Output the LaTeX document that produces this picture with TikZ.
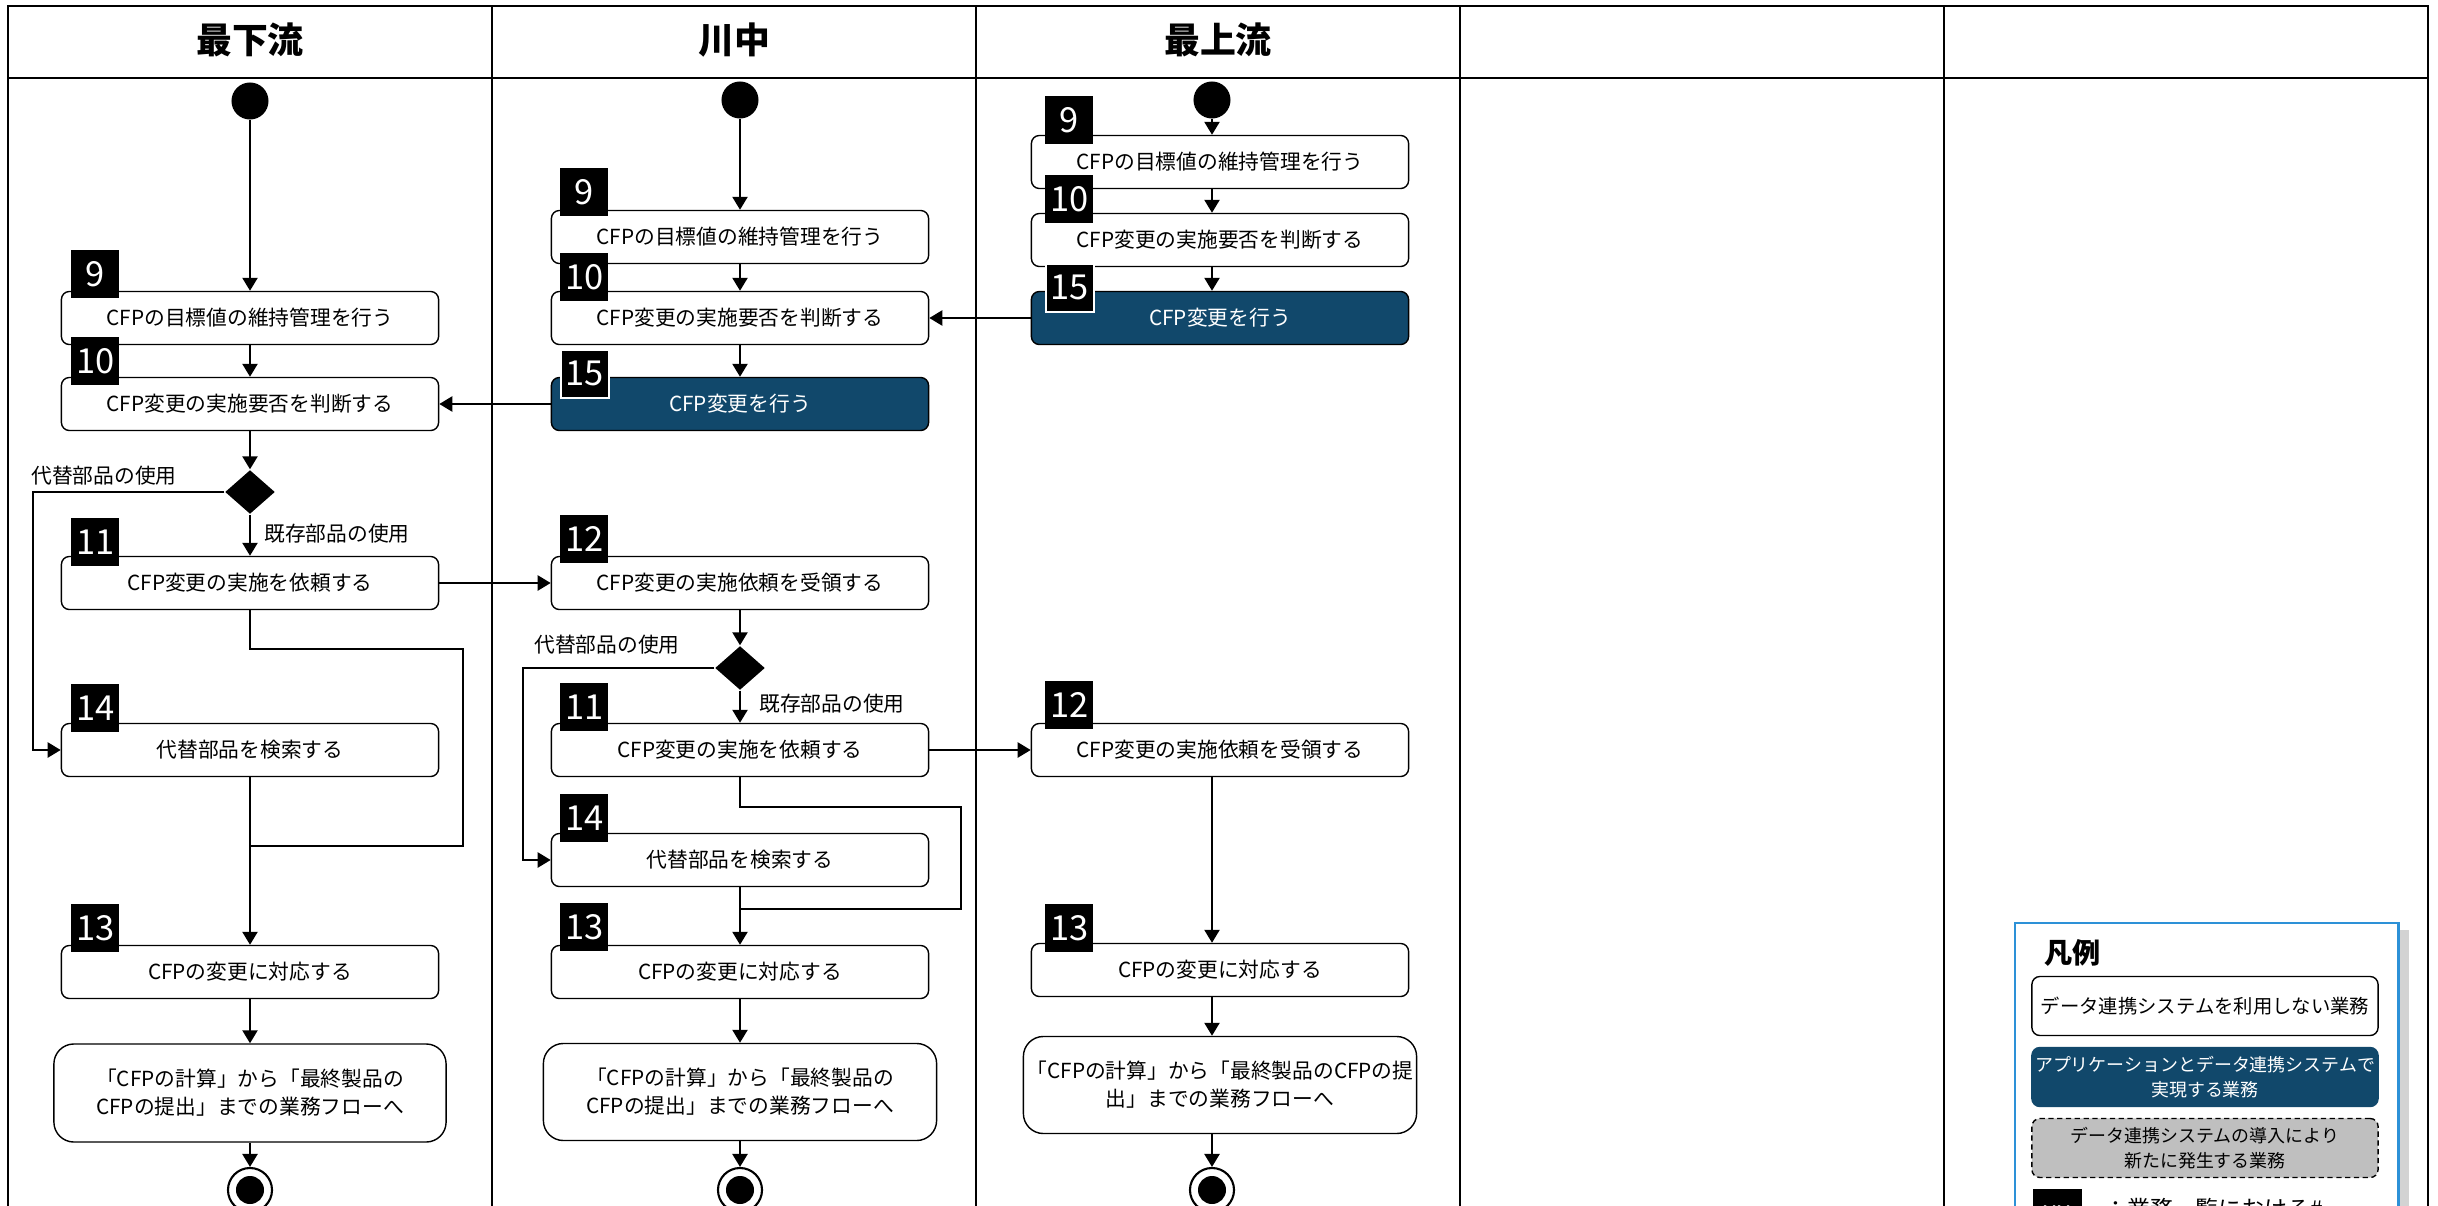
\documentclass[tikz,border=0pt]{standalone}
\usepackage{fontspec}
\setmainfont{Noto Sans CJK JP}
\usetikzlibrary{arrows.meta,shapes.geometric,shadows}
\definecolor{flownavy}{RGB}{17,72,107}
\definecolor{flowgray}{RGB}{191,191,191}
\definecolor{legendblue}{RGB}{45,145,215}

\begin{document}
\begin{tikzpicture}[x=0.01cm, y=-0.01cm,
  lane/.style={line width=0.8pt},
  task/.style={draw, line width=0.4pt, rounded corners=0.08cm, fill=white, minimum width=3.77cm, minimum height=0.53cm, inner sep=0pt, font=\fontsize{5.9pt}{7.5pt}\selectfont},
  apptask/.style={task, fill=flownavy, text=white},
  exitbox/.style={task, rounded corners=0.2cm, minimum width=3.93cm, minimum height=0.97cm, align=center, font=\fontsize{5.9pt}{8pt}\selectfont},
  tag/.style={fill=black, text=white, minimum size=0.48cm, inner sep=0pt, anchor=south west, font=\fontsize{9.8pt}{10pt}\selectfont},
  apptag/.style={tag, draw=white, line width=0.6pt},
  startdot/.style={circle, fill=black, minimum size=0.37cm, inner sep=0pt},
  enddot/.style={circle, draw=black, line width=0.6pt, fill=white, minimum size=0.44cm, inner sep=0pt,
    path picture={\fill[black] (path picture bounding box.center) circle (0.14cm);}},
  branch/.style={diamond, fill=black, minimum width=0.5cm, minimum height=0.44cm, inner sep=0pt},
  note/.style={font=\fontsize{5.9pt}{7.5pt}\selectfont},
  flow/.style={line width=0.6pt},
  arr/.style={flow, -{Triangle[length=3.7pt, width=4.3pt]}},
  legitem/.style={draw, line width=0.4pt, rounded corners=0.08cm, fill=white, minimum width=3.46cm, minimum height=0.59cm, inner sep=0pt, align=center, font=\fontsize{5.1pt}{7pt}\selectfont}
]
\useasboundingbox (0,0) rectangle (2438,1206);

% Swimlanes
\draw[lane] (8,1230) -- (8,6) -- (2428,6) -- (2428,1230);
\draw[lane] (8,78) -- (2428,78);
\draw[lane] (492,6) -- (492,1230);
\draw[lane] (976,6) -- (976,1230);
\draw[lane] (1460,6) -- (1460,1230);
\draw[lane] (1944,6) -- (1944,1230);
\node[font=\bfseries\fontsize{10.2pt}{12pt}\selectfont] (h1) at (250,40) {最下流};
\node[font=\bfseries\fontsize{10.2pt}{12pt}\selectfont] (h2) at (734,40) {川中};
\node[font=\bfseries\fontsize{10.2pt}{12pt}\selectfont] (h3) at (1218,40) {最上流};

% Lane 1: downstream
\node[startdot] (s1) at (250,101) {};
\node[task] (a9) at (250,318) {CFPの目標値の維持管理を行う};
\node[tag] (a9n) at ([shift={(10,8)}]a9.north west) {9};
\node[task] (a10) at (250,404) {CFP変更の実施要否を判断する};
\node[tag] (a10n) at ([shift={(10,9)}]a10.north west) {10};
\node[branch] (d1) at (250,492) {};
\node[note] (l1a) at (104,476) {代替部品の使用};
\node[note] (l1b) at (337,534) {既存部品の使用};
\node[task] (a11) at (250,583) {CFP変更の実施を依頼する};
\node[tag] (a11n) at ([shift={(10,11)}]a11.north west) {11};
\node[task] (a14) at (250,750) {代替部品を検索する};
\node[tag] (a14n) at ([shift={(10,10)}]a14.north west) {14};
\node[task] (a13) at (250,972) {CFPの変更に対応する};
\node[tag] (a13n) at ([shift={(10,8)}]a13.north west) {13};
\node[exitbox, minimum width=3.92cm, minimum height=0.98cm] (f1) at (250,1093) {「CFPの計算」から「最終製品の\\CFPの提出」までの業務フローへ};
\node[enddot] (e1) at (250,1190) {};
\coordinate (k1) at (33,0);
\coordinate (r1) at (463,649);
\coordinate (j1) at (250,846);

% Lane 2: midstream
\node[startdot] (s2) at (740,100) {};
\node[task] (b9) at (740,237) {CFPの目標値の維持管理を行う};
\node[tag] (b9n) at ([shift={(9,7)}]b9.north west) {9};
\node[task] (b10) at (740,318) {CFP変更の実施要否を判断する};
\node[tag] (b10n) at ([shift={(9,11)}]b10.north west) {10};
\node[apptask] (b15) at (740,404) {CFP変更を行う};
\node[apptag] (b15n) at ([shift={(9,22)}]b15.north west) {15};
\node[task] (b12) at (740,583) {CFP変更の実施依頼を受領する};
\node[tag] (b12n) at ([shift={(9,8)}]b12.north west) {12};
\node[branch] (d2) at (740,668) {};
\node[note] (l2a) at (607,645) {代替部品の使用};
\node[note] (l2b) at (832,704) {既存部品の使用};
\node[task] (b11) at (740,750) {CFP変更の実施を依頼する};
\node[tag] (b11n) at ([shift={(9,9)}]b11.north west) {11};
\node[task] (b14) at (740,860) {代替部品を検索する};
\node[tag] (b14n) at ([shift={(9,10)}]b14.north west) {14};
\node[task] (b13) at (740,972) {CFPの変更に対応する};
\node[tag] (b13n) at ([shift={(9,7)}]b13.north west) {13};
\node[exitbox] (f2) at (740,1092) {「CFPの計算」から「最終製品の\\CFPの提出」までの業務フローへ};
\node[enddot] (e2) at (740,1190) {};
\coordinate (k2) at (523,0);
\coordinate (r2) at (961,807);
\coordinate (j2) at (740,909);

% Lane 3: upstream
\node[startdot] (s3) at (1212,100) {};
\node[task] (c9) at (1220,162) {CFPの目標値の維持管理を行う};
\node[tag] (c9n) at ([shift={(14,10)}]c9.north west) {9};
\node[task] (c10) at (1220,240) {CFP変更の実施要否を判断する};
\node[tag] (c10n) at ([shift={(14,11)}]c10.north west) {10};
\node[apptask] (c15) at (1220,318) {CFP変更を行う};
\node[apptag] (c15n) at ([shift={(14,22)}]c15.north west) {15};
\node[task] (c12) at (1220,750) {CFP変更の実施依頼を受領する};
\node[tag] (c12n) at ([shift={(14,7)}]c12.north west) {12};
\node[task] (c13) at (1220,970) {CFPの変更に対応する};
\node[tag] (c13n) at ([shift={(14,10)}]c13.north west) {13};
\node[exitbox] (f3) at (1220,1085) {「CFPの計算」から「最終製品のCFPの提\\出」までの業務フローへ};
\node[enddot] (e3) at (1212,1190) {};

% Lane 1 connectors
\draw[arr] (s1) -- (a9);
\draw[arr] (a9) -- (a10);
\draw[arr] (a10) -- (d1);
\draw[arr] (d1) -- (a11);
\draw[arr] (d1.west) -- (d1.west -| k1) |- (a14.west);
\draw[flow] (a11.south) |- (r1) |- (j1);
\draw[arr] (a14) -- (a13);
\draw[arr] (a13) -- (f1);
\draw[arr] (f1) -- (e1);

% Lane 2 connectors
\draw[arr] (s2) -- (b9);
\draw[arr] (b9) -- (b10);
\draw[arr] (b10) -- (b15);
\draw[arr] (b12) -- (d2);
\draw[arr] (d2) -- (b11);
\draw[arr] (d2.west) -- (d2.west -| k2) |- (b14.west);
\draw[flow] (b11.south) |- (r2) |- (j2);
\draw[arr] (b14) -- (b13);
\draw[arr] (b13) -- (f2);
\draw[arr] (f2) -- (e2);

% Lane 3 connectors
\draw[arr] (s3) -- (s3 |- c9.north);
\draw[arr] (c9.south -| s3) -- (c10.north -| s3);
\draw[arr] (c10.south -| s3) -- (c15.north -| s3);
\draw[arr] (c12.south -| s3) -- (c13.north -| s3);
\draw[arr] (c13.south -| s3) -- (f3.north -| s3);
\draw[arr] (f3.south -| s3) -- (e3);

% Across lanes
\draw[arr] (b15) -- (a10);
\draw[arr] (c15) -- (b10);
\draw[arr] (a11) -- (b12);
\draw[arr] (b11) -- (c12);

% Legend
\node[draw=legendblue, line width=0.7pt, fill=white, drop shadow={shadow xshift=3pt, shadow yshift=-2pt, opacity=0.35}, minimum width=3.83cm, minimum height=3.2cm, anchor=north west] (legend) at (2014,922) {};
\node[font=\bfseries\fontsize{8pt}{9pt}\selectfont, anchor=west] (legtitle) at (2032,953) {凡例};
\node[legitem, font=\fontsize{5.5pt}{7pt}\selectfont] (leg1) at (2205,1006) {データ連携システムを利用しない業務};
\node[legitem, fill=flownavy, draw=flownavy, text=white] (leg2) at (2205,1077) {アプリケーションとデータ連携システムで\\実現する業務};
\node[legitem, fill=flowgray, dash pattern=on 1.5pt off 1pt] (leg3) at (2205,1148) {データ連携システムの導入により\\新たに発生する業務};
\node[fill=black, text=white, minimum size=0.49cm, inner sep=0pt, font=\fontsize{6.5pt}{7pt}\selectfont] (leg4) at (2057,1214) {XX};
\node[anchor=west, font=\fontsize{6.5pt}{7.5pt}\selectfont] (leg4t) at (2092,1209) {：業務一覧における\#};
\end{tikzpicture}
\end{document}
